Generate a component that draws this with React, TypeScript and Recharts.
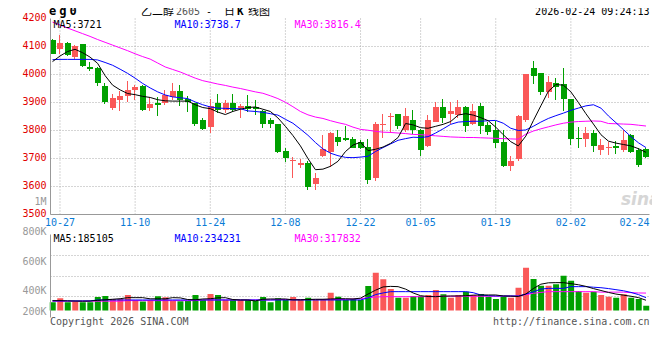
import React from "react";
import {
  Bar,
  CartesianGrid,
  Cell,
  ComposedChart,
  Line,
  XAxis,
  YAxis,
} from "recharts";

// trading days shown, oldest first
const DATES = [
  "10-24", "10-27", "10-28", "10-29", "10-30", "10-31",
  "11-03", "11-04", "11-05", "11-06", "11-07",
  "11-10", "11-11", "11-12", "11-13", "11-14",
  "11-17", "11-18", "11-19", "11-20", "11-21",
  "11-24", "11-25", "11-26", "11-27", "11-28",
  "12-01", "12-02", "12-03", "12-04", "12-05",
  "12-08", "12-09", "12-10", "12-11", "12-12",
  "12-15", "12-16", "12-17", "12-18", "12-19",
  "12-22", "12-23", "12-24", "12-25", "12-26",
  "12-29", "12-30", "12-31",
  "01-05", "01-06", "01-07", "01-08", "01-09",
  "01-12", "01-13", "01-14", "01-15", "01-16",
  "01-19", "01-20", "01-21", "01-22", "01-23",
  "01-26", "01-27", "01-28", "01-29", "01-30",
  "02-02", "02-03", "02-04", "02-05", "02-06",
  "02-09", "02-10", "02-11", "02-12", "02-13",
  "02-24",
];

const OPEN = [
  4123, 4090, 4111, 4061, 4108, 4026, 4024, 3958, 3879, 3908,
  3924, 3943, 3958, 3881, 3900, 3900, 3920, 3940, 3914, 3897,
  3839, 3813, 3899, 3873, 3899, 3880, 3888, 3885, 3870, 3839,
  3823, 3727, 3692, 3676, 3684, 3608, 3708, 3722, 3777, 3774,
  3769, 3760, 3742, 3629, 3820, 3848, 3858, 3801, 3837, 3801,
  3745, 3831, 3885, 3860, 3855, 3885, 3825, 3888, 3819, 3801,
  3760, 3674, 3700, 3837, 4024, 4004, 3936, 3971, 3966, 3914,
  3775, 3768, 3792, 3730, 3738, 3744, 3730, 3783, 3730, 3733,
];
const HIGH = [
  4125, 4140, 4117, 4106, 4110, 4044, 4027, 3968, 3930, 3940,
  3977, 3962, 3963, 3920, 3920, 3946, 3968, 3961, 3925, 3900,
  3843, 3914, 3930, 3908, 3930, 3896, 3926, 3908, 3872, 3843,
  3825, 3736, 3706, 3700, 3692, 3649, 3785, 3794, 3801, 3815,
  3777, 3766, 3771, 3829, 3858, 3861, 3860, 3879, 3873, 3807,
  3855, 3902, 3912, 3902, 3908, 3887, 3893, 3900, 3831, 3833,
  3801, 3710, 3855, 4001, 4049, 4004, 3994, 3986, 4025, 3914,
  3811, 3811, 3801, 3768, 3760, 3762, 3801, 3789, 3736, 3738,
];
const LOW = [
  4071, 4073, 4067, 4057, 4027, 4013, 3958, 3894, 3873, 3867,
  3902, 3908, 3869, 3869, 3851, 3894, 3908, 3887, 3867, 3819,
  3801, 3792, 3863, 3861, 3864, 3846, 3867, 3855, 3806, 3807,
  3720, 3686, 3632, 3667, 3590, 3587, 3706, 3670, 3744, 3763,
  3736, 3733, 3611, 3617, 3774, 3789, 3805, 3795, 3789, 3712,
  3742, 3829, 3825, 3825, 3843, 3795, 3819, 3789, 3786, 3738,
  3670, 3655, 3692, 3831, 3968, 3924, 3914, 3908, 3873, 3748,
  3736, 3738, 3721, 3712, 3714, 3714, 3724, 3721, 3669, 3702,
];
const CLOSE = [
  4075, 4112, 4069, 4101, 4031, 4019, 3970, 3902, 3916, 3925,
  3944, 3955, 3873, 3896, 3890, 3926, 3940, 3908, 3902, 3823,
  3807, 3887, 3873, 3899, 3873, 3887, 3876, 3878, 3823, 3825,
  3722, 3701, 3696, 3684, 3599, 3631, 3733, 3792, 3759, 3767,
  3738, 3736, 3623, 3825, 3825, 3851, 3817, 3851, 3801, 3732,
  3839, 3885, 3845, 3869, 3885, 3817, 3869, 3817, 3795, 3756,
  3674, 3692, 3851, 4001, 3994, 3938, 3974, 3956, 3914, 3768,
  3768, 3792, 3745, 3748, 3741, 3736, 3766, 3724, 3676, 3706,
];

const MA5 = [
  4046, 4066, 4082, 4090, 4078, 4062, 4040, 3996, 3962, 3945,
  3932, 3928, 3922, 3918, 3910, 3906, 3905, 3905, 3905, 3892,
  3882, 3878, 3866, 3857, 3868, 3876, 3882, 3884, 3876, 3868,
  3845, 3815, 3782, 3745, 3700, 3660, 3662, 3672, 3690, 3725,
  3748, 3758, 3728, 3733, 3741, 3754, 3775, 3825, 3820, 3810,
  3808, 3815, 3822, 3832, 3855, 3860, 3855, 3846, 3835, 3812,
  3785, 3760, 3745, 3780, 3835, 3888, 3940, 3964, 3962, 3938,
  3900, 3860, 3823, 3785, 3762, 3755, 3750, 3745, 3735, 3722,
];
const MA10 = [
  4053, 4054, 4054, 4054, 4054, 4054, 4052, 4043, 4033, 4019,
  4004, 3987, 3968, 3952, 3938, 3927, 3920, 3917, 3914, 3902,
  3892, 3884, 3880, 3879, 3878, 3878, 3870, 3868, 3865, 3860,
  3855, 3840, 3826, 3805, 3783, 3757, 3734, 3719, 3710, 3704,
  3703, 3705, 3708, 3725, 3739, 3752, 3765, 3771, 3776, 3775,
  3778, 3791, 3806, 3822, 3830, 3832, 3833, 3833, 3835, 3836,
  3826, 3808, 3800, 3802, 3815, 3830, 3843, 3853, 3862, 3872,
  3880, 3888, 3892, 3880, 3852, 3828, 3803, 3778, 3756, 3739,
];
const MA30 = [
  4187, 4177, 4166, 4156, 4146, 4136, 4125, 4115, 4105, 4095,
  4085, 4074, 4064, 4055, 4041, 4027, 4018, 4009, 3998, 3987,
  3978, 3972, 3966, 3961, 3955, 3950, 3944, 3938, 3933, 3924,
  3914, 3901, 3885, 3868, 3856, 3848, 3843, 3835, 3828, 3822,
  3812, 3804, 3801, 3797, 3794, 3793, 3791, 3789, 3786, 3785,
  3783, 3781, 3779, 3777, 3776, 3775, 3775, 3774, 3773, 3772,
  3771, 3770, 3769, 3787, 3798, 3806, 3813, 3820, 3826, 3830,
  3832, 3833, 3834, 3833, 3825, 3824, 3823, 3822, 3819, 3816,
];

// volume in thousands
const VOLUME = [
  150, 223, 150, 161, 150, 150, 246, 265, 210, 210,
  283, 192, 165, 192, 260, 240, 179, 170, 173, 283,
  192, 301, 283, 192, 192, 192, 192, 173, 246, 149,
  222, 192, 246, 192, 234, 192, 192, 325, 252, 192,
  210, 192, 447, 690, 569, 392, 234, 234, 265, 265,
  283, 374, 295, 234, 283, 344, 283, 301, 252, 210,
  252, 234, 416, 781, 575, 453, 453, 477, 635, 544,
  356, 325, 344, 283, 252, 234, 295, 234, 210, 88,
];
const VOL_MA5 = [
  179, 179, 175, 172, 170, 172, 185, 195, 205, 215,
  234, 234, 234, 213, 213, 213, 234, 230, 200, 195,
  210, 215, 230, 234, 200, 192, 192, 175, 205, 210,
  210, 210, 195, 195, 200, 205, 205, 210, 215, 215,
  210, 225, 300, 370, 430, 440, 435, 390, 320, 270,
  255, 252, 260, 265, 265, 270, 280, 283, 283, 283,
  265, 262, 255, 300, 400, 480, 505, 508, 508, 490,
  470, 440, 400, 365, 330, 300, 280, 260, 235, 187,
];
const VOL_MA10 = [
  175, 175, 175, 175, 175, 175, 192, 192, 192, 192,
  192, 192, 192, 192, 192, 192, 192, 192, 192, 192,
  192, 192, 192, 192, 192, 192, 192, 192, 192, 192,
  192, 192, 192, 192, 192, 192, 192, 192, 192, 192,
  192, 192, 230, 290, 320, 344, 344, 344, 344, 344,
  344, 344, 344, 344, 344, 344, 325, 283, 270, 265,
  265, 265, 265, 300, 340, 390, 404, 404, 404, 435,
  435, 435, 425, 416, 400, 380, 360, 330, 290, 234,
];
const VOL_MA30 = [
  170, 170, 170, 170, 170, 170, 170, 170, 170, 170,
  180, 180, 180, 180, 180, 180, 180, 180, 180, 180,
  192, 192, 192, 192, 192, 192, 192, 192, 192, 192,
  200, 200, 200, 200, 200, 200, 200, 200, 200, 200,
  210, 215, 234, 245, 252, 252, 252, 252, 252, 252,
  252, 260, 260, 260, 260, 260, 260, 260, 260, 260,
  262, 262, 262, 290, 313, 330, 344, 344, 344, 344,
  344, 344, 344, 335, 335, 335, 335, 325, 320, 318,
];

const LABEL_DATES = ["10-27", "11-10", "11-24", "12-08", "12-22", "01-05", "01-19", "02-02", "02-24"];
const PRICE_TICKS = [3500, 3600, 3700, 3800, 3900, 4000, 4100, 4200];
const VOL_TICKS = [200, 400, 600, 800, 1000];

const UP = "#fa5858";
const DOWN = "#00a000";
const BORDER = "#999";
const GRID = "#aaa";
const MONO = '"DejaVu Sans Mono", monospace';
const CJK = '"Noto Sans CJK SC", sans-serif';

const rows = DATES.map((date, i) => ({
  i,
  date,
  open: OPEN[i],
  high: HIGH[i],
  low: LOW[i],
  close: CLOSE[i],
  ma5: MA5[i],
  ma10: MA10[i],
  ma30: MA30[i],
  vol: VOLUME[i],
  vma5: VOL_MA5[i],
  vma10: VOL_MA10[i],
  vma30: VOL_MA30[i],
}));

const labelIdx = LABEL_DATES.map((d) => DATES.indexOf(d));
const gridIdx = labelIdx.slice(0, -1);
const lastIdx = DATES.length - 1;

function Candle(props: any) {
  const { x, y, width, height, payload } = props;
  if (!payload) return null;
  const { open, close, high, low } = payload;
  const color = close >= open ? UP : DOWN;
  const top = Math.min(y, y + height);
  const h = Math.abs(height);
  const span = high - low || 1;
  const toY = (v: number) => top + ((high - v) / span) * h;
  const bodyTop = Math.round(toY(Math.max(open, close)));
  const bodyBot = Math.round(toY(Math.min(open, close)));
  const left = Math.round(x);
  const w = Math.round(width);
  return (
    <g shapeRendering="crispEdges">
      <rect x={left + Math.floor(w / 2) - 1} y={Math.round(top)} width={1} height={Math.max(1, Math.round(h))} fill={color} />
      <rect x={left} y={bodyTop} width={w} height={Math.max(1, bodyBot - bodyTop)} fill={color} />
    </g>
  );
}

function PriceTick({ x, y, payload }: any) {
  return (
    <text x={x} y={y} dy={2.5} textAnchor="end" fill="#e10000" fontFamily={MONO} fontSize={10}>
      {payload.value}
    </text>
  );
}

function DateTick({ x, y, payload }: any) {
  const last = payload.value === lastIdx;
  return (
    <text
      x={last ? x + 3.5 : x}
      y={y + 11}
      textAnchor={last ? "end" : "middle"}
      fill="#0a7bd6"
      fontFamily={MONO}
      fontSize={10}
    >
      {DATES[payload.value]}
    </text>
  );
}

function VolTick({ x, y, payload }: any) {
  const v = payload.value;
  const label = v >= 1000 ? `${v / 1000}M` : `${v}K`;
  // sina keeps the lowest label inside the panel
  return (
    <text x={x} y={Math.min(y, 311)} dy={3.5} textAnchor="end" fill="#999" fontFamily={MONO} fontSize={10}>
      {label}
    </text>
  );
}

const quarterLines = ({ offset }: any) =>
  [1, 2, 3].map((k) => Math.floor(offset.top + (offset.height * k) / 4) + 0.5);

export default function App() {
  const txt = { fontFamily: MONO, fontSize: 10 };
  return (
    <div style={{ position: "relative", width: 660, height: 360, margin: -8, background: "#fff", overflow: "hidden" }}>
      {/* price panel */}
      <div style={{ position: "absolute", left: 0, top: 0 }}>
        <ComposedChart width={660} height={232} data={rows} margin={{ top: 18.5, right: 10.5, bottom: 1.5, left: 0.5 }}>
          <CartesianGrid
            yAxisId="price"
            stroke={GRID}
            strokeDasharray="1 2"
            verticalValues={gridIdx}
            horizontalValues={PRICE_TICKS.slice(1, -1)}
          />
          <XAxis
            dataKey="i"
            type="number"
            domain={["dataMin", "dataMax"]}
            padding={{ left: 2, right: 3.5 }}
            ticks={labelIdx}
            interval={0}
            tick={<DateTick />}
            tickLine={false}
            tickSize={0}
            tickMargin={0}
            axisLine={{ stroke: BORDER }}
            height={16}
          />
          <XAxis
            xAxisId="top"
            orientation="top"
            dataKey="i"
            type="number"
            domain={["dataMin", "dataMax"]}
            height={0}
            tick={false}
            tickLine={false}
            axisLine={{ stroke: BORDER }}
          />
          <YAxis
            yAxisId="price"
            domain={[3500, 4200]}
            allowDataOverflow
            ticks={PRICE_TICKS}
            interval={0}
            width={50}
            tickLine={false}
            tickSize={0}
            tickMargin={4}
            tick={<PriceTick />}
            axisLine={{ stroke: BORDER }}
          />
          <YAxis yAxisId="edge" orientation="right" width={0} tick={false} tickLine={false} axisLine={{ stroke: BORDER }} />
          <Bar
            yAxisId="price"
            dataKey={(d: any) => [d.low, d.high]}
            barSize={6}
            shape={<Candle />}
            isAnimationActive={false}
          />
          <Line yAxisId="price" dataKey="ma30" stroke="#ff00ff" strokeWidth={1} dot={false} activeDot={false} isAnimationActive={false} />
          <Line yAxisId="price" dataKey="ma10" stroke="#0000ff" strokeWidth={1} dot={false} activeDot={false} isAnimationActive={false} />
          <Line yAxisId="price" dataKey="ma5" stroke="#000" strokeWidth={1} dot={false} activeDot={false} isAnimationActive={false} />
        </ComposedChart>
      </div>

      {/* volume panel */}
      <div style={{ position: "absolute", left: 0, top: 0 }}>
        <ComposedChart width={660} height={320} data={rows} margin={{ top: 234.5, right: 10.5, bottom: 2.5, left: 0.5 }}>
          <CartesianGrid
            yAxisId="vol"
            stroke={GRID}
            strokeDasharray="1 2"
            verticalValues={gridIdx}
            horizontalCoordinatesGenerator={quarterLines}
          />
          <XAxis
            dataKey="i"
            type="number"
            domain={["dataMin", "dataMax"]}
            padding={{ left: 2, right: 3.5 }}
            ticks={labelIdx}
            height={0}
            tick={false}
            tickLine={false}
            axisLine={{ stroke: BORDER }}
          />
          <XAxis
            xAxisId="top"
            orientation="top"
            dataKey="i"
            type="number"
            domain={["dataMin", "dataMax"]}
            height={0}
            tick={false}
            tickLine={false}
            axisLine={{ stroke: BORDER }}
          />
          <YAxis yAxisId="vol" hide domain={[-128, 1387]} allowDataOverflow />
          <YAxis
            yAxisId="lab"
            domain={[223.3, 776.7]}
            allowDataOverflow
            ticks={VOL_TICKS}
            interval={0}
            width={50}
            tickLine={false}
            tickSize={0}
            tickMargin={4}
            tick={<VolTick />}
            axisLine={{ stroke: BORDER }}
          />
          <YAxis yAxisId="edge" orientation="right" width={0} tick={false} tickLine={false} axisLine={{ stroke: BORDER }} />
          <Bar yAxisId="vol" dataKey="vol" barSize={6} isAnimationActive={false}>
            {rows.map((r) => (
              <Cell key={r.i} fill={r.close >= r.open ? UP : DOWN} />
            ))}
          </Bar>
          <Line yAxisId="vol" dataKey="vma30" stroke="#ff00ff" strokeWidth={1} dot={false} activeDot={false} isAnimationActive={false} />
          <Line yAxisId="vol" dataKey="vma10" stroke="#0000ff" strokeWidth={1} dot={false} activeDot={false} isAnimationActive={false} />
          <Line yAxisId="vol" dataKey="vma5" stroke="#000" strokeWidth={1} dot={false} activeDot={false} isAnimationActive={false} />
        </ComposedChart>
      </div>

      {/* header, legends, footer */}
      <svg width={660} height={360} style={{ position: "absolute", left: 0, top: 0, pointerEvents: "none" }}>
        <text x={49} y={15} fontFamily={MONO} fontSize={12} fontWeight="bold" letterSpacing={3}>eg0</text>
        <text y={14.5} fontSize={11}>
          <tspan x={141} fontFamily={CJK} fill="#000">乙二醇</tspan>
          <tspan x={176} fontFamily={MONO} fontSize={10} fill="#555">2605</tspan>
          <tspan x={206} fontFamily={MONO} fontSize={10} fill="#000">-</tspan>
          <tspan x={224} fontFamily={CJK} fill="#000">日</tspan>
          <tspan x={237} fontFamily={MONO} fontWeight="bold" fill="#000">K</tspan>
          <tspan x={248} fontFamily={CJK} fill="#000">线图</tspan>
        </text>
        <text x={649.5} y={15} textAnchor="end" {...txt}>2026-02-24 09:24:13</text>

        <text x={53.5} y={27.5} fill="#000" {...txt}>MA5:3721</text>
        <text x={174.5} y={27.5} fill="#0000ff" {...txt}>MA10:3738.7</text>
        <text x={294.5} y={27.5} fill="#ff00ff" {...txt}>MA30:3816.4</text>

        <text x={621} y={205} fontFamily="'DejaVu Sans', sans-serif" fontSize={17} fontStyle="italic" fontWeight="bold" fill="#d6d6d6">sina</text>

        <text x={53.5} y={241.7} fill="#000" {...txt}>MA5:185105</text>
        <text x={174.5} y={241.7} fill="#0000ff" {...txt}>MA10:234231</text>
        <text x={294.5} y={241.7} fill="#ff00ff" {...txt}>MA30:317832</text>

        <text x={50} y={325.3} fill="#555" {...txt}>Copyright 2026 SINA.COM</text>
        <text x={649.5} y={325.3} textAnchor="end" fill="#555" {...txt}>http://finance.sina.com.cn</text>
      </svg>
    </div>
  );
}
